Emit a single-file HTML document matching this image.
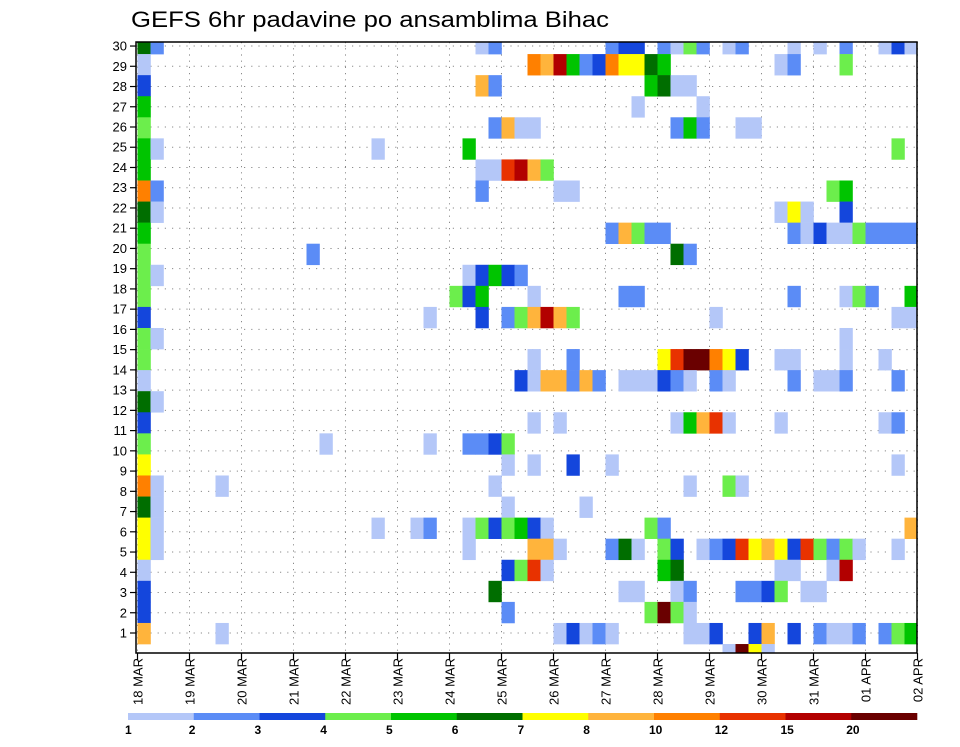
<!DOCTYPE html>
<html>
<head>
<meta charset="utf-8">
<style>
html,body{margin:0;padding:0;background:#fff;}
body{width:960px;height:742px;overflow:hidden;font-family:"Liberation Sans",sans-serif;}
svg text{font-family:"Liberation Sans",sans-serif;fill:#000;}
</style>
</head>
<body>
<svg id="chart" width="960" height="742" viewBox="0 0 960 742" xmlns="http://www.w3.org/2000/svg">
  <text x="131" y="27" font-size="22" textLength="478" lengthAdjust="spacingAndGlyphs">GEFS 6hr padavine po ansamblima Bihac</text>
  <g id="grid"></g>
  <g id="cells" clip-path="url(#plotclip)"></g>
  <defs><clipPath id="plotclip"><rect x="136" y="42" width="781" height="611"/></clipPath></defs>
  <rect x="136" y="42" width="781" height="611" fill="none" stroke="#000" stroke-width="1.5"/>
  <g id="yaxis"></g>
  <g id="xaxis"></g>
  <g id="legend"></g>
</svg>
<script>
// ---- data ----
const memberRows = [29,28,27,26,25,24,23,22,21,20,19,18,17,16,15,14,13,12,11,10,9,8,7,6,5,4,3,2,1,0];
const stepsByMember = [
 [0,1,26,27,36,37,38,40,41,42,43,45,46,50,52,54,57,58,59],
 [0,30,31,32,33,34,35,36,37,38,39,40,49,50,54],
 [0,26,27,39,40,41,42],
 [0,38,43],
 [0,27,28,29,30,41,42,43,46,47],
 [0,1,18,25,58],
 [0,26,27,28,29,30,31],
 [0,1,26,32,33,53,54],
 [0,1,49,50,51,54],
 [0,36,37,38,39,40,50,51,52,53,54,55,56,57,58,59],
 [0,13,41,42],
 [0,1,25,26,27,28,29],
 [0,24,25,26,30,37,38,50,54,55,56,59],
 [0,22,26,28,29,30,31,32,33,44,58,59],
 [0,1,54],
 [0,30,33,40,41,42,43,44,45,46,49,50,54,57],
 [0,29,30,31,32,33,34,35,37,38,39,40,41,42,44,45,50,52,53,54,58],
 [0,1],
 [0,30,32,41,42,43,44,45,49,57,58],
 [0,14,22,25,26,27,28],
 [0,28,30,33,36,58],
 [0,1,6,27,42,45,46],
 [0,1,28,34],
 [0,1,18,21,22,25,26,27,28,29,30,31,39,40,59],
 [0,1,25,30,31,32,36,37,38,40,41,43,44,45,46,47,48,49,50,51,52,53,54,55,58],
 [0,28,29,30,31,40,41,49,50,53,54],
 [0,27,37,38,41,42,46,47,48,49,51,52],
 [0,28,39,40,41,42],
 [0,6,32,33,34,35,36,42,43,44,47,48,50,52,53,54,55,57,58,59],
 [45,46,47,48]
];
const precipByMember = [
 [6.5,2.5,1.5,2.5,2.5,3.5,3.5,2.5,1.5,4.5,2.5,1.5,2.5,1.5,1.5,2.5,1.5,3.5,1.5],
 [1.5,11,9,17,5.5,2.5,3.5,11,7.5,7.5,6.5,5.5,1.5,2.5,4.5],
 [3.5,9,2.5,5.5,6.5,1.5,1.5],
 [5.5,1.5,1.5],
 [4.5,2.5,9,1.5,1.5,2.5,5.5,2.5,1.5,1.5],
 [5.5,1.5,1.5,5.5,4.5],
 [5.5,1.5,1.5,13,17,9,4.5],
 [11,2.5,2.5,1.5,1.5,4.5,5.5],
 [6.5,1.5,1.5,7.5,1.5,3.5],
 [5.5,2.5,9,4.5,2.5,2.5,2.5,1.5,3.5,1.5,1.5,4.5,2.5,2.5,2.5,2.5],
 [4.5,2.5,6.5,2.5],
 [4.5,1.5,1.5,3.5,5.5,3.5,2.5],
 [4.5,4.5,3.5,5.5,1.5,2.5,2.5,2.5,1.5,4.5,2.5,5.5],
 [3.5,1.5,3.5,2.5,4.5,9,17,9,4.5,1.5,1.5,1.5],
 [4.5,1.5,1.5],
 [4.5,1.5,2.5,7.5,13,25,25,11,7.5,3.5,1.5,1.5,1.5,1.5],
 [1.5,3.5,1.5,9,9,2.5,9,2.5,1.5,1.5,1.5,3.5,2.5,1.5,2.5,1.5,2.5,1.5,1.5,2.5,2.5],
 [6.5,1.5],
 [3.5,1.5,1.5,1.5,5.5,9,13,1.5,1.5,1.5,2.5],
 [4.5,1.5,1.5,2.5,2.5,3.5,4.5],
 [7.5,1.5,1.5,3.5,1.5,1.5],
 [11,1.5,1.5,1.5,1.5,4.5,1.5],
 [6.5,1.5,1.5,1.5],
 [7.5,1.5,1.5,1.5,2.5,1.5,4.5,3.5,4.5,5.5,3.5,1.5,4.5,2.5,9],
 [7.5,1.5,1.5,9,9,1.5,2.5,6.5,1.5,4.5,3.5,1.5,2.5,3.5,13,7.5,9,7.5,3.5,13,4.5,2.5,4.5,1.5,1.5],
 [1.5,3.5,4.5,13,1.5,5.5,6.5,1.5,1.5,1.5,17],
 [3.5,6.5,1.5,1.5,1.5,2.5,2.5,2.5,3.5,4.5,1.5,1.5],
 [3.5,2.5,4.5,25,4.5,1.5],
 [9,1.5,1.5,3.5,1.5,2.5,1.5,1.5,1.5,3.5,3.5,9,3.5,2.5,1.5,1.5,2.5,2.5,4.5,5.5],
 [1.5,25,7.5,1.5]
];
const levelEdges = [1,2,3,4,5,6,7,8,10,12,15,20];
const levelColors = ["#b4c7f8","#5b8cf6","#1446dc","#6cee4c","#00c400","#006e00","#ffff00","#ffb43c","#ff8000","#e83200","#b20000","#6a0000"];
const yTickLabels = [1,2,3,4,5,6,7,8,9,10,11,12,13,14,15,16,17,18,19,20,21,22,23,24,25,26,27,28,29,30];
const xTickLabels = ["18 MAR","19 MAR","20 MAR","21 MAR","22 MAR","23 MAR","24 MAR","25 MAR","26 MAR","27 MAR","28 MAR","29 MAR","30 MAR","31 MAR","01 APR","02 APR"];

// ---- scales ----
const NS = "http://www.w3.org/2000/svg";
const PL = 136, PT = 42, PR = 917, PB = 653;
function xStep(c){ return 137.5 + c * 13; }
const cellW = 13;
function yMember(v){ return 633.5 - (v - 1) * 21.07; }
const cellH = 21.07;
function yLabel(k){ return 633 - (k - 1) * 20.24; }
function xDay(d){ return 137.5 + d * 52; }
function colorFor(val){
  let idx = -1;
  for (let i = 0; i < levelEdges.length; i++) if (val >= levelEdges[i]) idx = i;
  return idx < 0 ? null : levelColors[idx];
}
function mk(tag, attrs, parent){
  const el = document.createElementNS(NS, tag);
  for (const k in attrs) el.setAttribute(k, attrs[k]);
  parent.appendChild(el);
  return el;
}

// ---- grid ----
const grid = document.getElementById('grid');
yTickLabels.forEach(k => {
  const l = mk('line', {x1:PL, x2:PR, y1:yLabel(k), y2:yLabel(k), stroke:'#8a8a8a', 'stroke-width':1, 'stroke-dasharray':'1.2,6'}, grid);
  
  
});
xTickLabels.forEach((t, d) => {
  const l = mk('line', {x1:xDay(d), x2:xDay(d), y1:PT, y2:PB, stroke:'#8a8a8a', 'stroke-width':1, 'stroke-dasharray':'1.2,5'}, grid);
  
  
});

// ---- cells ----
const cells = document.getElementById('cells');
memberRows.forEach((v, i) => {
  stepsByMember[i].forEach((c, j) => {
    const col = colorFor(precipByMember[i][j]);
    if (!col) return;
    const r = mk('rect', {x:xStep(c), y:yMember(v) - cellH/2, width:cellW + 0.3, height:cellH + 0.3, fill:col}, cells);
    
    
  });
});

// ---- y axis ----
const ya = document.getElementById('yaxis');
yTickLabels.forEach(k => {
  const y = yLabel(k);
  const tk = mk('line', {x1:PL - 6, x2:PL, y1:y, y2:y, stroke:'#000', 'stroke-width':1.2}, ya);
  
  
  const t = mk('text', {x:PL - 9, y:y + 4.5, 'font-size':13, 'text-anchor':'end'}, ya);
  t.textContent = k;
  
  
});

// ---- x axis ----
const xa = document.getElementById('xaxis');
xTickLabels.forEach((lab, d) => {
  const x = xDay(d);
  const tk = mk('line', {x1:x, x2:x, y1:PB, y2:PB + 7, stroke:'#000', 'stroke-width':1.2}, xa);
  
  
  const t = mk('text', {transform:'translate(' + (x + 5) + ',' + 658 + ') rotate(-90)', 'font-size':13, 'text-anchor':'end'}, xa);
  t.textContent = lab;
  
  
});

// ---- legend ----
const lg = document.getElementById('legend');
const segW = (917 - 128) / levelColors.length;
levelColors.forEach((c, i) => {
  const r = mk('rect', {x:128 + i * segW, y:713, width:segW + 0.3, height:7, fill:c}, lg);
  
  
  const t = mk('text', {x:128 + i * segW - (i === 0 ? 3 : 5), y:734, 'font-size':12, 'font-weight':'bold'}, lg);
  t.textContent = levelEdges[i];
  
  
});
</script>
</body>
</html>
